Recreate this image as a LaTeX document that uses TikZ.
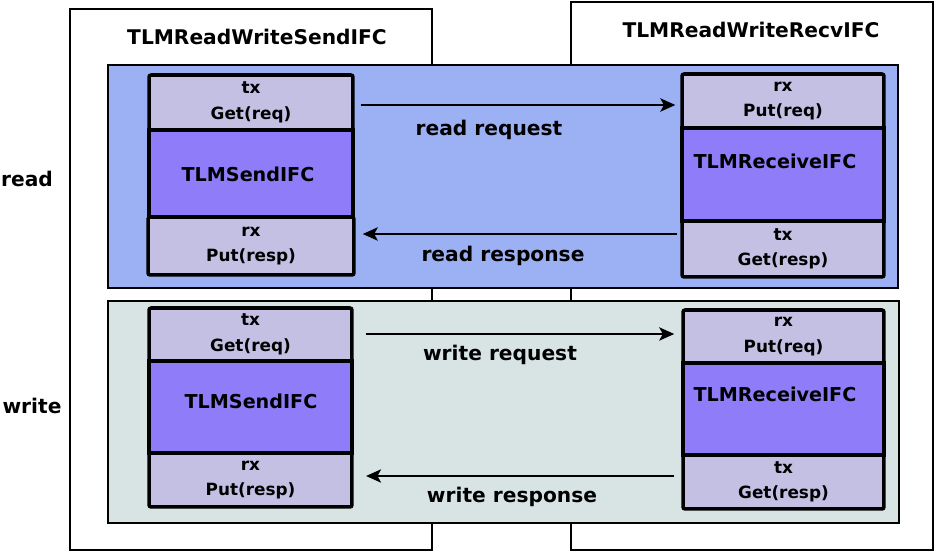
\documentclass[tikz,border=0pt]{standalone}
\usepackage{fontspec}
\setmainfont{DejaVu Sans}
\usetikzlibrary{arrows.meta}
\definecolor{panelblue}{HTML}{9CB0F4}
\definecolor{panelgreen}{HTML}{D8E4E4}
\definecolor{portlav}{HTML}{C4C0E4}
\definecolor{corepurple}{HTML}{8F7CF8}
\tikzset{
	port/.style={draw, line width=2pt, fill=portlav, rounded corners=1.2pt, inner sep=0pt, align=center, font=\fontsize{9.6}{14.5}\selectfont\bfseries},
	core/.style={draw, line width=2pt, fill=corepurple, inner sep=0pt},
	bigtxt/.style={font=\fontsize{11.5}{14}\selectfont\bfseries},
	coretxt/.style={font=\fontsize{10.9}{13}\selectfont\bfseries},
	msg/.style={line width=1.5pt, -{Stealth[length=8.5pt,width=7.5pt,inset=2pt]}}
}

\begin{document}
\begin{tikzpicture}[x=0.02cm, y=-0.02cm]
		%%%%% START %%%%%
		\useasboundingbox (0, 0) rectangle (937, 553);
		
		% outer interfaces
		\draw[line width=1.2pt, fill=white] (70, 9) rectangle (432, 550);
		\draw[line width=1.2pt, fill=white] (571, 2) rectangle (933, 550);
		\node[bigtxt] (sendname) at (257, 37) {TLMReadWriteSendIFC};
		\node[bigtxt] (recvname) at (751, 30) {TLMReadWriteRecvIFC};
		
		% panels
		\draw[line width=1.3pt, fill=panelblue] (108, 65) rectangle (898, 288);
		\draw[line width=1.3pt, fill=panelgreen] (108, 301) rectangle (899, 523);
		\node[bigtxt] (readlbl) at (27, 179) {read};
		\node[bigtxt] (writelbl) at (32, 406) {write};
		
		% read, left
		\node[core, minimum width=4.08cm, minimum height=1.74cm] (rsend) at (251, 173.5) {};
		\node[port, minimum width=4.08cm, minimum height=1.1cm] (rtx) at (251, 102.5) {tx\\Get(req)};
		\node[port, minimum width=4.12cm, minimum height=1.16cm] (rrx) at (251, 246) {rx\\Put(resp)};
		\node[coretxt] (rsendtxt) at (248, 174) {TLMSendIFC};
		
		% read, right
		\node[core, minimum width=4.04cm, minimum height=1.86cm] (rrecv) at (783, 174.5) {};
		\node[port, minimum width=4.04cm, minimum height=1.08cm] (rput) at (783, 101) {rx\\Put(req)};
		\node[port, minimum width=4.04cm, minimum height=1.12cm] (rget) at (783, 249) {tx\\Get(resp)};
		\node[coretxt] (rrecvtxt) at (775, 161) {TLMReceiveIFC};
		
		% write, left
		\node[core, minimum width=4.06cm, minimum height=1.84cm] (wsend) at (250.5, 407) {};
		\node[port, minimum width=4.06cm, minimum height=1.06cm] (wtx) at (250.5, 334.5) {tx\\Get(req)};
		\node[port, minimum width=4.06cm, minimum height=1.08cm] (wrx) at (250.5, 480) {rx\\Put(resp)};
		\node[coretxt] (wsendtxt) at (251, 401) {TLMSendIFC};
		
		% write, right
		\node[core, minimum width=4.02cm, minimum height=1.84cm] (wrecv) at (783.5, 409) {};
		\node[port, minimum width=4.02cm, minimum height=1.06cm] (wput) at (783.5, 336.5) {rx\\Put(req)};
		\node[port, minimum width=4.02cm, minimum height=1.08cm] (wget) at (783.5, 482) {tx\\Get(resp)};
		\node[coretxt] (wrecvtxt) at (775, 394) {TLMReceiveIFC};
		
		% messages
		\draw[msg, shorten <=3.4pt, shorten >=2.8pt] (rtx.east |- 0, 105) -- (rput.west |- 0, 105);
		\node[bigtxt] (rreq) at (489, 130) {read request};
		\draw[msg, shorten <=1.7pt, shorten >=4pt] (rget.west |- 0, 234) -- (rrx.east |- 0, 234);
		\node[bigtxt] (rresp) at (503, 256) {read response};
		\draw[msg, shorten <=7pt, shorten >=4pt] (wtx.east |- 0, 334) -- (wput.west |- 0, 334);
		\node[bigtxt] (wreq) at (500, 355) {write request};
		\draw[msg, shorten <=4pt, shorten >=7pt] (wget.west |- 0, 476) -- (wrx.east |- 0, 476);
		\node[bigtxt] (wresp) at (512, 497) {write response};
		
		%%%%% END %%%%%
	\end{tikzpicture}
\end{document}
